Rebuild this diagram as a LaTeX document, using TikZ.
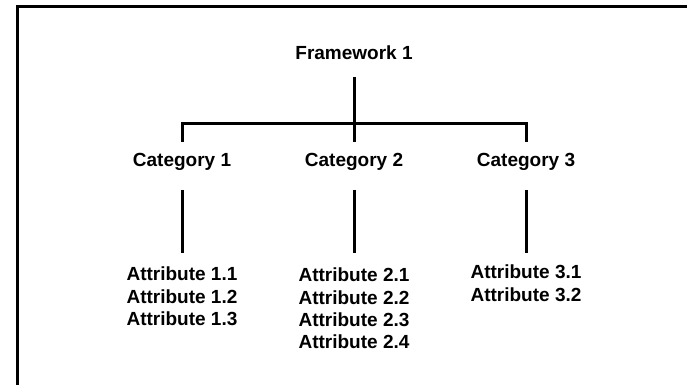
\documentclass[tikz,border=0pt]{standalone}
\usepackage{fontspec}
\setmainfont{Liberation Sans}
\begin{document}
\begin{tikzpicture}[x=1pt,y=1pt,
  lbl/.style={inner sep=0pt,outer sep=0pt,font=\fontsize{19}{22.3}\selectfont\bfseries},
  attr/.style={lbl,align=center,anchor=north},
  conn/.style={line width=3pt},
  frameline/.style={line width=3.2pt}]
\useasboundingbox (0,0) rectangle (687,385);
\coordinate (fl) at (17.5,0);
\coordinate (fc) at (17.5,378.5);
\coordinate (fr) at (687,378.5);
\draw[frameline] (fl) -- (fc) -- (fr);
\node[lbl,anchor=base] (fw) at (354,325) {Framework 1};
\node[lbl,anchor=base] (c1) at (182,218) {Category 1};
\node[lbl,anchor=base] (c2) at (354,218) {Category 2};
\node[lbl,anchor=base] (c3) at (526,218) {Category 3};
\node[attr] (a1) at (182,118) {Attribute 1.1\\Attribute 1.2\\Attribute 1.3};
\node[attr] (a2) at (354,117) {Attribute 2.1\\Attribute 2.2\\Attribute 2.3\\Attribute 2.4};
\node[attr] (a3) at (526,120) {Attribute 3.1\\Attribute 3.2};
\draw[conn] ([yshift=-17]fw.base) -- ([yshift=25]c2.base);
\draw[conn] ([yshift=25]c1.base) -- ([yshift=43.5]c1.base) -- ([yshift=43.5]c3.base) -- ([yshift=25]c3.base);
\draw[conn] ([yshift=-23]c1.base) -- ([yshift=14]a1.north -| c1.base);
\draw[conn] ([yshift=-23]c2.base) -- ([yshift=15]a2.north -| c2.base);
\draw[conn] ([yshift=-23]c3.base) -- ([yshift=12]a3.north -| c3.base);
\end{tikzpicture}
\end{document}
